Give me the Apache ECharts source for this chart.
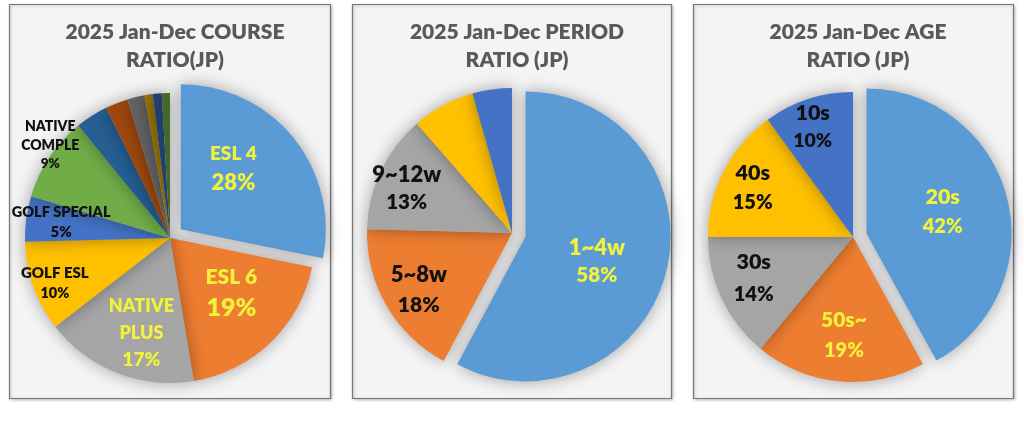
<!DOCTYPE html>
<html>
<head>
<meta charset="utf-8">
<script src="https://cdn.jsdelivr.net/npm/echarts@6/dist/echarts.min.js"></script>
<style>
  html, body { margin: 0; padding: 0; background: #fff; }
  #chart { width: 1024px; height: 421px; }
</style>
</head>
<body>
<div id="chart"></div>
<script>
// ---- data ----
const courseNames = ['ESL 4', 'ESL 6', 'NATIVE PLUS', 'GOLF ESL', 'GOLF SPECIAL', 'NATIVE COMPLE',
  'OTHER 1', 'OTHER 2', 'OTHER 3', 'OTHER 4', 'OTHER 5', 'OTHER 6'];
const courseLabels = ['ESL 4', 'ESL 6', 'NATIVE\nPLUS', 'GOLF ESL', 'GOLF SPECIAL', 'NATIVE\nCOMPLE'];
const courseValues = [28, 19, 17, 10, 5, 9.4, 3.6, 2.5, 1.9, 0.9, 1.0, 0.9];

const periodNames = ['1~4w', '5~8w', '9~12w', '13~16w', '17w~'];
const periodLabels = ['1~4w', '5~8w', '9~12w'];
const periodValues = [57.8, 17.6, 13.2, 7.0, 4.4];

const ageNames = ['20s', '50s~', '30s', '40s', '10s'];
const ageLabels = ['20s', '50s~', '30s', '40s', '10s'];
const ageValues = [42, 19, 14, 15, 10];

const titles = [
  '2025 Jan-Dec COURSE\nRATIO(JP)',
  '2025 Jan-Dec PERIOD\nRATIO (JP)',
  '2025 Jan-Dec AGE\nRATIO (JP)'
];

// ---- style ----
const palette = ['#5B9BD5', '#ED7D31', '#A5A5A5', '#FFC000', '#4472C4', '#70AD47',
  '#255E91', '#9E480E', '#636363', '#997300', '#264478', '#43682B'];
const YEL = '#F2F23A';
const BLK = '#111';
const FONT = 'Lato, "Open Sans", sans-serif';
const WEIGHT = 800;
const R = 145;

// per label: [name size, pct size, line height, colour, nudge x, nudge y]
const courseLabelStyle = [
  [19, 22, 29, YEL, -6, -13],
  [21, 25, 31, YEL, 9, 0],
  [18, 19, 27, YEL, -1, 25],
  [15, 14.5, 21, BLK, -44, 20],
  [14.5, 15, 20, BLK, -34, -6],
  [14, 13.5, 19, BLK, -57, -51]
];
const periodLabelStyle = [
  [22, 20.5, 28, YEL, -2, 7],
  [22, 21, 30, BLK, -28, 19],
  [22, 20.5, 28, BLK, -37, -12]
];
const ageLabelStyle = [
  [21.5, 20, 30, YEL, 3, -3],
  [21, 20, 30, YEL, -2, 23],
  [21.5, 20, 32, BLK, -31, 9],
  [21.5, 20, 29, BLK, -33, -15],
  [21.5, 19.5, 28, BLK, -17, -38]
];

const panels = [
  { x: 9.5, w: 321, cx: 170, cy: 238 },
  { x: 352.5, w: 319, cx: 512, cy: 233 },
  { x: 693.5, w: 320, cx: 853, cy: 237 }
];

function buildData(names, values, labels, styles) {
  return names.map(function (n, i) {
    const item = { name: n, value: values[i], itemStyle: { color: palette[i] } };
    const st = styles[i];
    if (st && labels[i]) {
      item.label = {
        show: true,
        formatter: '{n|' + labels[i].split('\n').join('}\n{n|') + '}\n{p|' + Math.round(values[i]) + '%}',
        rich: {
          n: { fontSize: st[0], lineHeight: st[2], color: st[3], fontWeight: WEIGHT, fontFamily: FONT },
          p: { fontSize: st[1], lineHeight: st[2], color: st[3], fontWeight: WEIGHT, fontFamily: FONT }
        }
      };
    } else {
      item.label = { show: false };
    }
    if (i === 0) item.selected = true;
    return item;
  });
}

function nudge(styles) {
  return function (params) {
    const st = styles[params.dataIndex];
    if (!st) return {};
    return { dx: st[4], dy: st[5] };
  };
}

function pieSeries(p, data, styles) {
  return {
    type: 'pie',
    center: [p.cx, p.cy],
    radius: R,
    startAngle: 90,
    clockwise: true,
    selectedMode: 'single',
    selectedOffset: 14,
    avoidLabelOverlap: false,
    silent: true,
    label: { position: 'inside', fontFamily: FONT },
    labelLine: { show: false },
    labelLayout: nudge(styles),
    itemStyle: {
      borderWidth: 0,
      shadowBlur: 16,
      shadowColor: 'rgba(0,0,0,0.35)'
    },
    select: { itemStyle: { borderWidth: 0 } },
    emphasis: { disabled: true },
    data: data
  };
}

const option = {
  backgroundColor: '#fff',
  animation: false,
  graphic: panels.map(function (p) {
    return {
      type: 'rect',
      z: -10,
      shape: { x: p.x, y: 4.5, width: p.w, height: 394 },
      style: { fill: '#f4f4f4', stroke: '#777', lineWidth: 1.2,
        shadowBlur: 3, shadowColor: 'rgba(0,0,0,0.25)', shadowOffsetX: 1, shadowOffsetY: 1 }
    };
  }),
  title: titles.map(function (t, i) {
    return {
      text: t,
      left: panels[i].cx,
      top: 13,
      textAlign: 'center',
      textStyle: { fontFamily: FONT, fontSize: 21, fontWeight: WEIGHT, color: '#595959', lineHeight: 28 }
    };
  }),
  series: [
    pieSeries(panels[0], buildData(courseNames, courseValues, courseLabels, courseLabelStyle), courseLabelStyle),
    pieSeries(panels[1], buildData(periodNames, periodValues, periodLabels, periodLabelStyle), periodLabelStyle),
    pieSeries(panels[2], buildData(ageNames, ageValues, ageLabels, ageLabelStyle), ageLabelStyle)
  ]
};

const chart = echarts.init(document.getElementById('chart'));
chart.setOption(option);
</script>
</body>
</html>
